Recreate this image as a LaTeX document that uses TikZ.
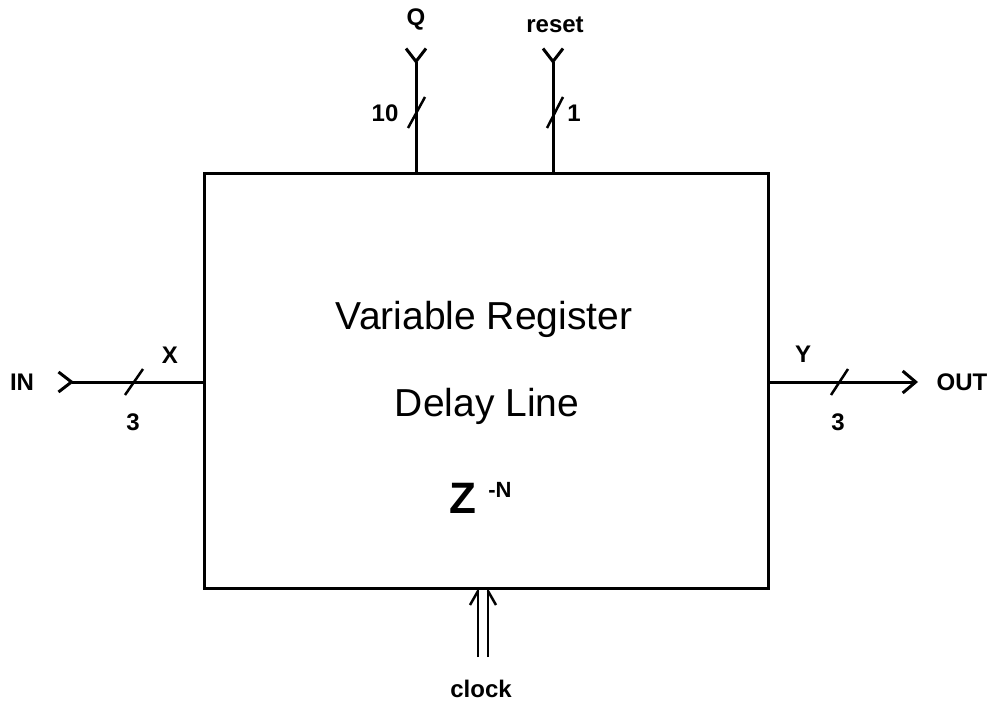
\documentclass[tikz,border=0pt]{standalone}
\usepackage{fontspec}
\setmainfont{Liberation Sans}
\usetikzlibrary{arrows.meta}
\begin{document}
\begin{tikzpicture}[x=1pt,y=-1pt,
  wire/.style={line width=3pt},
  tick/.style={line width=2.5pt},
  lbl/.style={font=\fontsize{24}{24}\selectfont\bfseries, inner sep=0pt},
  big/.style={font=\fontsize{39}{39}\selectfont, inner sep=0pt, anchor=base},
  inarrow/.style={wire, {Straight Barb[reversed,length=13pt,width=20pt,line width=3pt]}-},
  outarrow/.style={wire, -{Straight Barb[length=13pt,width=22pt,line width=3pt]}}
]
\useasboundingbox (0,0) rectangle (1006,707);
% box
\node[draw, line width=3pt, minimum width=564pt, minimum height=415pt, inner sep=0pt] (box) at (486,381) {};
% texts
\node[big] (t1) at (484,329) {Variable Register};
\node[big] (t2) at (487,416) {Delay Line};
\node[font=\fontsize{44}{44}\selectfont\bfseries, inner sep=0pt, anchor=base] (z) at (463,513) {Z};
\node[font=\fontsize{22}{22}\selectfont\bfseries, inner sep=0pt, anchor=base] (zn) at (500,497) {-N};
% coordinates
\coordinate (inS) at (57,382);
\coordinate (inE) at (204,382);
\coordinate (outS) at (768,382);
\coordinate (outE) at (918,382);
\coordinate (qS) at (416,47);
\coordinate (qE) at (416,173);
\coordinate (rS) at (553,47);
\coordinate (rE) at (553,173);
% wires
\draw[inarrow] (inS) -- (inE);
\draw[outarrow] (outS) -- (outE);
\draw[inarrow] (qS) -- (qE);
\draw[inarrow] (rS) -- (rE);
% slashes
\draw[tick] (125,395) -- (143,369);
\draw[tick] (831,395) -- (848,369);
\draw[tick] (408,128) -- (425,97);
\draw[tick] (547,128) -- (563,97);
% clock
\coordinate (cS) at (483,657);
\coordinate (cE) at (483,590);
\draw[tick] ([xshift=-5pt]cS) -- ([xshift=-5pt]cE);
\draw[tick] ([xshift=5pt]cS) -- ([xshift=5pt]cE);
\draw[tick] ([xshift=-13pt,yshift=-15pt]cE) -- ([xshift=-5pt,yshift=-1pt]cE);
\draw[tick] ([xshift=13pt,yshift=-15pt]cE) -- ([xshift=5pt,yshift=-1pt]cE);
% labels
\node[lbl] (lin) at (22,382) {IN};
\node[lbl] (lout) at (962,382) {OUT};
\node[lbl] (lx) at (170,355) {X};
\node[lbl] (l3a) at (133,422) {3};
\node[lbl] (ly) at (803,354) {Y};
\node[lbl] (l3b) at (838,422) {3};
\node[lbl] (lq) at (416,19) {Q};
\node[lbl] (lr) at (555,25) {reset};
\node[lbl] (l10) at (385,113) {10};
\node[lbl] (l1) at (574,113) {1};
\node[lbl] (lc) at (481,689) {clock};
\end{tikzpicture}
\end{document}
